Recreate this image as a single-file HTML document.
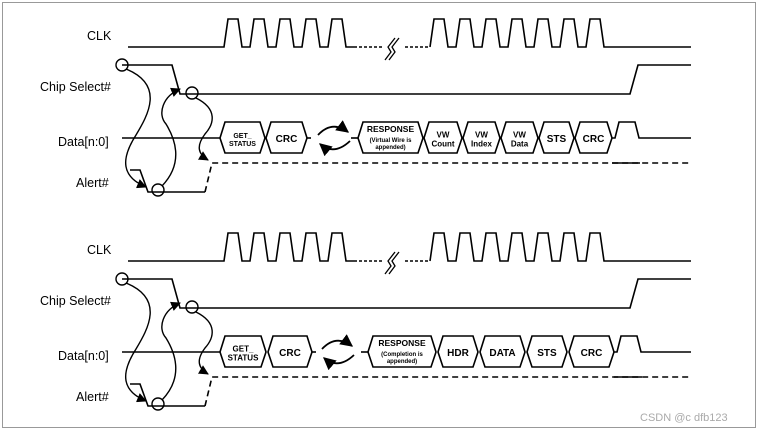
<!DOCTYPE html>
<html><head><meta charset="utf-8"><style>
html,body{margin:0;padding:0;background:#fff;}
svg{display:block;}
text{font-family:"Liberation Sans",Arial,sans-serif;}
.lbl{font-size:12.5px;fill:#000;}
.b{font-weight:bold;fill:#000;text-anchor:middle;}
</style></head><body>
<svg id="s" width="764" height="431" viewBox="0 0 764 431" xmlns="http://www.w3.org/2000/svg">
<defs><marker id="ah" viewBox="0 0 10 10" refX="9" refY="5" markerWidth="7" markerHeight="7" orient="auto"><path d="M0,0 L10,5 L0,10 z" fill="#000"/></marker></defs>
<rect x="2.5" y="2.5" width="753" height="425" fill="none" stroke="#999" stroke-width="1"/>
<text x="640" y="421" font-size="11" fill="#aaa" style="font-family:'Liberation Sans',sans-serif">CSDN @c  dfb123</text>
</svg>
<script>
var s=document.getElementById('s'),ns='http://www.w3.org/2000/svg';
function el(t,a,txt){var e=document.createElementNS(ns,t);for(var k in a)e.setAttribute(k,a[k]);if(txt!==undefined)e.textContent=txt;s.appendChild(e);return e;}
function P(d,extra){var a={d:d,fill:'none',stroke:'#000','stroke-width':1.6};for(var k in extra)a[k]=extra[k];return el('path',a);}
function box(x1,x2,y,lines,fs){var t=y-16,b=y+15;P('M'+x1+','+y+' L'+(x1+5)+','+t+' L'+(x2-5)+','+t+' L'+x2+','+y+' L'+(x2-5)+','+b+' L'+(x1+5)+','+b+' Z');
 var cx=(x1+x2)/2;var n=lines.length;for(var i=0;i<n;i++){var l=lines[i];el('text',{x:cx,y:y+4+(i-(n-1)/2)*l[1]*1.15,'font-size':l[1],'class':'b'},l[0]);}}
function panel(o,boxes,arrX,respEnd){
 el('text',{x:87,y:40+o,'class':'lbl'},'CLK');
 el('text',{x:40,y:91+o,'class':'lbl'},'Chip Select#');
 el('text',{x:58,y:146+o,'class':'lbl'},'Data[n:0]');
 el('text',{x:76,y:187+o,'class':'lbl'},'Alert#');
 var yl=47+o,yh=19+o,d='M128,'+yl+' L224,'+yl;var x=224;
 for(var i=0;i<5;i++){d+=' L'+(x+4)+','+yh+' L'+(x+14)+','+yh+' L'+(x+18)+','+yl+' L'+(x+26)+','+yl;x+=26;}
 P(d);P('M'+x+','+yl+' L'+(x+28)+','+yl,{'stroke-dasharray':'3,2'});
 P('M'+(x+31)+','+(yl+13)+' l6,-8 l-3,-5 l7,-9',{'stroke-width':1.3});P('M'+(x+35)+','+(yl+13)+' l6,-8 l-3,-5 l7,-9',{'stroke-width':1.3});
 x=430;P('M405,'+yl+' L'+x+','+yl,{'stroke-dasharray':'3,2'});d='M'+x+','+yl;
 for(var i=0;i<7;i++){d+=' L'+(x+4)+','+yh+' L'+(x+14)+','+yh+' L'+(x+18)+','+yl+' L'+(x+26)+','+yl;x+=26;}
 d+=' L691,'+yl;P(d);
 var ch=65+o,cl=94+o;P('M122,'+ch+' L172,'+ch+' L180,'+cl+' L630,'+cl+' L638,'+ch+' L691,'+ch);
 var dy=138+o;P('M122,'+dy+' L220,'+dy);
 boxes.forEach(function(b){box(b[0],b[1],dy,b[2]);});
 var last=boxes[boxes.length-1][1];
 P('M'+last+','+dy+' L'+(last+3)+','+dy+' L'+(last+7)+','+(dy-16)+' L'+(last+23)+','+(dy-16)+' L'+(last+27)+','+dy+' L691,'+dy);
 var c2=boxes[1][1],r1=boxes[2][0];
 P('M'+c2+','+dy+' L'+(c2+7)+','+dy,{'stroke-dasharray':'4,3'});P('M'+(r1-7)+','+dy+' L'+r1+','+dy);
 var ax=arrX;P('M'+(ax)+','+(dy-3)+' Q'+(ax+14)+','+(dy-18)+' '+(ax+30)+','+(dy-6),{'marker-end':'url(#ah)','stroke-width':1.8});
 P('M'+(ax+32)+','+(dy+3)+' Q'+(ax+16)+','+(dy+18)+' '+(ax+2)+','+(dy+6),{'marker-end':'url(#ah)','stroke-width':1.8});
 var ay=163+o,al=192+o;
 P('M130,'+(170+o)+' L140,'+(170+o)+' L148,'+al+' L205,'+al);
 P('M205,'+al+' L212,'+ay+' L691,'+ay,{'stroke-dasharray':'6,4'});
 P('M'+(last)+','+ay+' L'+(last+28)+','+ay);
 el('circle',{cx:122,cy:ch,r:6,fill:'none',stroke:'#000','stroke-width':1.4});
 el('circle',{cx:192,cy:cl-1,r:6,fill:'none',stroke:'#000','stroke-width':1.4});
 el('circle',{cx:158,cy:al-2,r:6,fill:'none',stroke:'#000','stroke-width':1.4});
 P('M126,'+(ch+4)+' C165,'+(ch+20)+' 148,'+(ch+50)+' 136,'+(ch+70)+' C120,'+(ch+95)+' 122,'+(ch+112)+' 146,'+(al-5),{'marker-end':'url(#ah)','stroke-width':1.4});
 P('M162,'+(al-6)+' C185,'+(al-30)+' 174,'+(al-55)+' 166,'+(al-68)+' C157,'+(cl+20)+' 163,'+(cl+2)+' 180,'+(cl-5),{'marker-end':'url(#ah)','stroke-width':1.4});
 P('M196,'+(cl+4)+' C218,'+(cl+15)+' 214,'+(cl+30)+' 205,'+(cl+40)+' C196,'+(cl+52)+' 198,'+(cl+60)+' 208,'+(ay-3),{'marker-end':'url(#ah)','stroke-width':1.4});
}
panel(0,[[220,265,[['GET_',7],['STATUS',7]]],[266,307,[['CRC',10]]],[358,423,[['RESPONSE',8.5],['(Virtual Wire is',6],['appended)',6]]],[424,462,[['VW',8],['Count',8]]],[463,500,[['VW',8],['Index',8]]],[501,538,[['VW',8],['Data',8]]],[539,574,[['STS',10]]],[575,612,[['CRC',10]]]],318);
panel(214,[[220,266,[['GET_',8],['STATUS',8]]],[268,312,[['CRC',10]]],[368,436,[['RESPONSE',8.5],['(Completion is',6],['appended)',6]]],[438,478,[['HDR',10]]],[480,525,[['DATA',10]]],[527,567,[['STS',10]]],[569,614,[['CRC',10]]]],322);
</script>
</body></html>
